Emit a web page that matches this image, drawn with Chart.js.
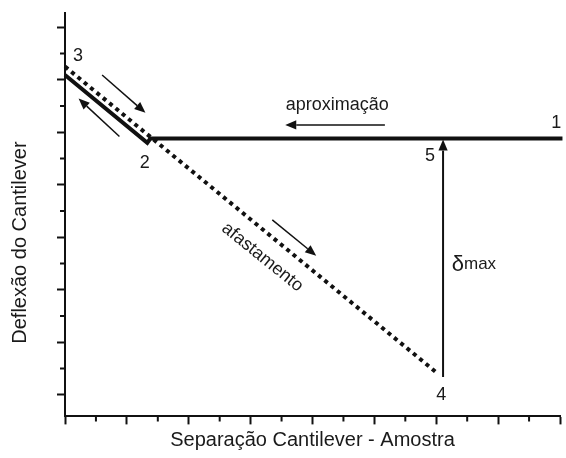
<!DOCTYPE html>
<html>
<head>
<meta charset="utf-8">
<script src="https://cdn.jsdelivr.net/npm/chart.js@4"></script>
<style>
  html, body { margin: 0; padding: 0; background: #fff; }
  #wrap { width: 566px; height: 458px; }
</style>
</head>
<body>
<div id="wrap"><canvas id="chart"></canvas></div>
<script>
// approach curve (solid): 1 -> 2 -> 3
const approachX = [8.04, 1.38, 1.33, 0];
const approachY = [5.88, 5.88, 5.80, 7.09];
// retract curve (dotted): 3 -> 4
const retractX = [0, 6.03];
const retractY = [7.25, 1.40];

// tick values (major = integers)
const xTickValues = [0, 0.5, 1, 1.5, 2, 2.5, 3, 3.5, 4, 4.5, 5, 5.5, 6, 6.5, 7, 7.5, 8];
const yTickValues = [1, 1.5, 2, 2.5, 3, 3.5, 4, 4.5, 5, 5.5, 6, 6.5, 7, 7.5, 8];

// arrows: [x0, y0, x1, y1, width, head]
const arrows = [
  [5.17, 6.14, 3.56, 6.14, 1.5, 11],
  [0.60, 7.09, 1.30, 6.37, 1.5, 11],
  [0.88, 5.92, 0.22, 6.64, 1.5, 11],
  [3.35, 4.33, 4.06, 3.65, 1.5, 11],
  [6.11, 1.34, 6.11, 5.86, 2, 11]
];

// point labels
const pointLabels = ['1', '2', '3', '4', '5'];
const pointLabelX = [7.94, 1.29, 0.21, 6.08, 5.90];
const pointLabelY = [6.09, 5.32, 7.36, 0.91, 5.45];

const yTitle = 'Deflexão do Cantilever';
const yTitleCenter = 3.9;   // y value where the axis title is centred

const FONT = '"Liberation Sans", Arial, Helvetica, sans-serif';
const TEXT = '#1a1a1a';

function drawArrow (ctx, x0, y0, x1, y1, w, head) {
  const a = Math.atan2(y1 - y0, x1 - x0);
  const bx = x1 - Math.cos(a) * head;
  const by = y1 - Math.sin(a) * head;
  ctx.save();
  ctx.strokeStyle = '#111';
  ctx.fillStyle = '#111';
  ctx.lineWidth = w;
  ctx.beginPath();
  ctx.moveTo(x0, y0);
  ctx.lineTo(bx, by);
  ctx.stroke();
  const hw = head * 0.42;
  ctx.beginPath();
  ctx.moveTo(x1, y1);
  ctx.lineTo(bx + Math.sin(a) * hw, by - Math.cos(a) * hw);
  ctx.lineTo(bx - Math.sin(a) * hw, by + Math.cos(a) * hw);
  ctx.closePath();
  ctx.fill();
  ctx.restore();
}

const annotations = {
  id: 'annotations',
  afterDraw (chart) {
    const ctx = chart.ctx;
    const xs = chart.scales.x;
    const ys = chart.scales.y;
    const px = v => xs.getPixelForValue(v);
    const py = v => ys.getPixelForValue(v);

    // minor ticks
    ctx.save();
    ctx.strokeStyle = '#111';
    ctx.lineWidth = 2;
    ctx.beginPath();
    xTickValues.filter(v => !Number.isInteger(v)).forEach(v => {
      ctx.moveTo(px(v), xs.top);
      ctx.lineTo(px(v), xs.top + 5);
    });
    yTickValues.filter(v => !Number.isInteger(v)).forEach(v => {
      ctx.moveTo(ys.right, py(v));
      ctx.lineTo(ys.right - 5, py(v));
    });
    ctx.stroke();
    ctx.restore();

    arrows.forEach(a => drawArrow(ctx, px(a[0]), py(a[1]), px(a[2]), py(a[3]), a[4], a[5]));

    ctx.save();
    ctx.fillStyle = TEXT;
    ctx.textAlign = 'center';
    ctx.textBaseline = 'alphabetic';

    // y axis title
    ctx.save();
    ctx.font = '20px ' + FONT;
    ctx.translate(20, py(yTitleCenter));
    ctx.rotate(-Math.PI / 2);
    ctx.textBaseline = 'middle';
    ctx.fillText(yTitle, 0, 0);
    ctx.restore();

    ctx.font = '18px ' + FONT;
    pointLabels.forEach((t, i) => ctx.fillText(t, px(pointLabelX[i]), py(pointLabelY[i])));

    ctx.fillText('aproximação', px(4.40), py(6.43));

    // afastamento, rotated along the retract line
    ctx.save();
    ctx.translate(px(3.19), py(3.62));
    ctx.rotate(39 * Math.PI / 180);
    ctx.textBaseline = 'middle';
    ctx.fillText('afastamento', 0, 0);
    ctx.restore();

    // delta max
    ctx.textAlign = 'left';
    ctx.font = '22px ' + FONT;
    const dx = px(6.25);
    ctx.fillText('δ', dx, py(3.35));
    const dw = ctx.measureText('δ').width;
    ctx.font = '17px ' + FONT;
    ctx.fillText('max', dx + dw, py(3.39));
    ctx.restore();
  }
};

new Chart(document.getElementById('chart'), {
  type: 'scatter',
  data: {
    datasets: [{
      label: 'aproximação',
      data: approachX.map((x, i) => ({ x, y: approachY[i] })),
      showLine: true,
      borderColor: '#111',
      borderWidth: 4,
      pointRadius: 0,
      clip: false
    }, {
      label: 'afastamento',
      data: retractX.map((x, i) => ({ x, y: retractY[i] })),
      showLine: true,
      borderColor: '#111',
      borderWidth: 4,
      borderDash: [4, 4.2],
      borderCapStyle: 'butt',
      pointRadius: 0,
      clip: false
    }]
  },
  options: {
    responsive: true,
    maintainAspectRatio: false,
    animation: false,
    layout: { padding: { top: 13, right: 6, bottom: 0, left: 57 } },
    plugins: {
      legend: { display: false },
      tooltip: { enabled: false }
    },
    scales: {
      x: {
        type: 'linear',
        min: 0,
        max: 8,
        afterBuildTicks: scale => { scale.ticks = xTickValues.map(value => ({ value })); },
        ticks: { display: false },
        grid: {
          drawOnChartArea: false,
          tickLength: 8,
          tickWidth: 2,
          tickColor: c => (c.tick && Number.isInteger(c.tick.value)) ? '#111' : 'rgba(0,0,0,0)'
        },
        border: { display: true, color: '#111', width: 2 },
        title: {
          display: true,
          text: 'Separação Cantilever - Amostra',
          color: TEXT,
          font: { family: FONT, size: 20 },
          padding: { top: 4, bottom: 5.6 }
        }
      },
      y: {
        type: 'linear',
        min: 0.59,
        max: 8.27,
        afterBuildTicks: scale => { scale.ticks = yTickValues.map(value => ({ value })); },
        ticks: { display: false },
        grid: {
          drawOnChartArea: false,
          tickLength: 8,
          tickWidth: 2,
          tickColor: c => (c.tick && Number.isInteger(c.tick.value)) ? '#111' : 'rgba(0,0,0,0)'
        },
        border: { display: true, color: '#111', width: 2 },
        title: { display: false }
      }
    }
  },
  plugins: [annotations]
});
</script>
</body>
</html>
